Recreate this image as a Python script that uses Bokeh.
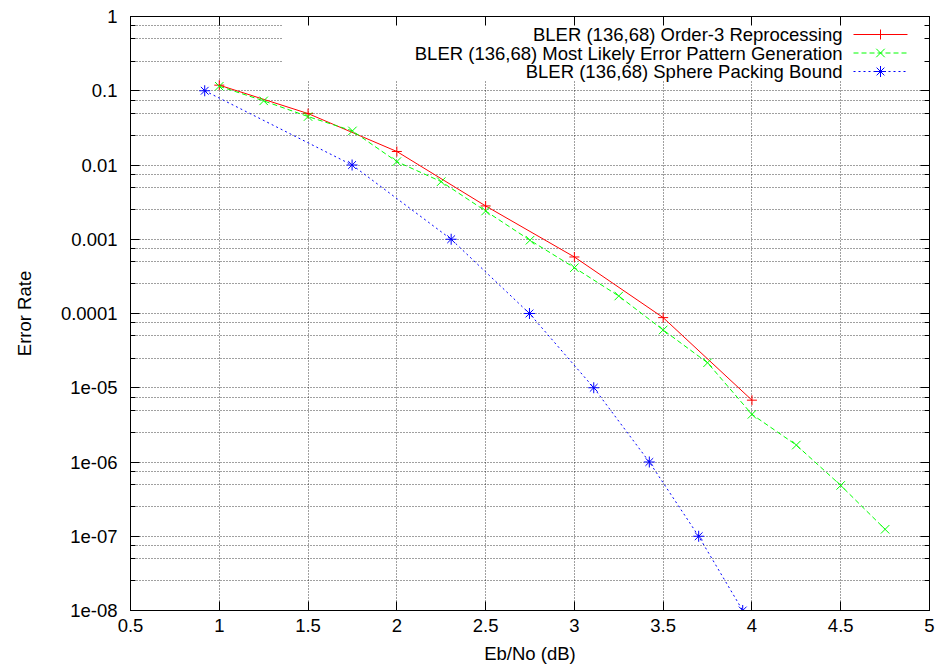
from bokeh.plotting import figure
from bokeh.models import (FixedTicker, LogAxis, LinearAxis, CustomJSTickFormatter,
                          BoxAnnotation, Label, Range1d, LinearScale)
from bokeh.embed import file_html
from bokeh.resources import INLINE

# ---------------- data ----------------
x_reproc = [1.0, 1.5, 2.0, 2.5, 3.0, 3.5, 4.0]
y_reproc = [0.119, 0.0493, 0.0152, 0.00281, 5.77e-4, 8.8e-5, 6.8e-6]

x_mlepg = [1.0, 1.25, 1.5, 1.75, 2.0, 2.25, 2.5, 2.75, 3.0, 3.25, 3.5, 3.75, 4.0, 4.25, 4.5, 4.75]
y_mlepg = [0.115, 0.0731, 0.0449, 0.0288, 0.0111, 0.00597, 0.0024, 9.7e-4, 4.14e-4, 1.72e-4,
           6.0e-5, 2.17e-5, 4.38e-6, 1.69e-6, 4.84e-7, 1.24e-7]

x_sphere = [0.918, 1.748, 2.306, 2.747, 3.109, 3.422, 3.700, 3.948]
y_sphere = [1e-1, 1e-2, 1e-3, 1e-4, 1e-5, 1e-6, 1e-7, 1e-8]

series_names = ["BLER (136,68) Order-3 Reprocessing",
                "BLER (136,68) Most Likely Error Pattern Generation",
                "BLER (136,68) Sphere Packing Bound"]

x_ticks = [0.5, 1.0, 1.5, 2.0, 2.5, 3.0, 3.5, 4.0, 4.5, 5.0]
x_tick_labels = ["0.5", "1", "1.5", "2", "2.5", "3", "3.5", "4", "4.5", "5"]
y_ticks = [1e-8, 1e-7, 1e-6, 1e-5, 1e-4, 1e-3, 1e-2, 1e-1, 1.0]
y_tick_labels = ["1e-08", "1e-07", "1e-06", "1e-05", "0.0001", "0.001", "0.01", "0.1", "1"]
y_minor_mult = [2.5, 5.0, 7.5]

x_label = "Eb/No (dB)"
y_label = "Error Rate"

# ---------------- styling / layout ----------------
FONT = "Liberation Sans"
FS = "18.5px"
RED, GREEN, BLUE = "#ff0000", "#00ff00", "#0000ff"
FRAME_L, FRAME_R, FRAME_T, FRAME_B = 130, 929, 16, 610   # canvas px of plot frame

y_minor = [m * t for t in y_ticks[:-1] for m in y_minor_mult]

p = figure(width=939, height=671, y_axis_type="log",
           x_range=(x_ticks[0], x_ticks[-1]), y_range=(y_ticks[0], y_ticks[-1]),
           output_backend="svg", toolbar_location=None,
           min_border_left=FRAME_L, min_border_right=939 - FRAME_R,
           min_border_top=FRAME_T, min_border_bottom=671 - FRAME_B)
p.background_fill_color = "white"
p.border_fill_color = "white"
p.outline_line_color = "black"
p.outline_line_width = 1

fmt_code = """
let best = 0, bd = Infinity;
for (let i = 0; i < vals.length; i++) {
  const d = Math.abs(vals[i] - tick) / Math.abs(vals[i]);
  if (d < bd) { bd = d; best = i; }
}
return labs[best];
"""
xfmt = CustomJSTickFormatter(args=dict(vals=x_ticks, labs=x_tick_labels), code=fmt_code)
yfmt = CustomJSTickFormatter(args=dict(vals=y_ticks, labs=y_tick_labels), code=fmt_code)
blank = CustomJSTickFormatter(code="return '';")

def style_axis(ax):
    ax.axis_line_color = "black"
    ax.major_tick_line_color = "black"
    ax.minor_tick_line_color = "black"
    ax.major_tick_in = 9
    ax.major_tick_out = 0
    ax.minor_tick_in = 5
    ax.minor_tick_out = 0
    ax.major_label_text_font = FONT
    ax.major_label_text_font_size = FS
    ax.major_label_text_color = "black"
    ax.axis_label_text_font = FONT
    ax.axis_label_text_font_size = FS
    ax.axis_label_text_font_style = "normal"
    ax.axis_label_text_color = "black"

xb = p.xaxis[0]
xb.ticker = FixedTicker(ticks=x_ticks, minor_ticks=[])
xb.formatter = xfmt
xb.axis_label = x_label
style_axis(xb)
xb.major_label_standoff = 8
xb.axis_label_standoff = 8

yl = p.yaxis[0]
yl.ticker = FixedTicker(ticks=y_ticks, minor_ticks=y_minor)
yl.formatter = yfmt
yl.axis_label = y_label
style_axis(yl)
yl.major_label_standoff = 13
yl.axis_label_standoff = 23

xt = LinearAxis(ticker=FixedTicker(ticks=x_ticks, minor_ticks=[]), formatter=blank)
style_axis(xt)
xt.major_label_standoff = 0
p.add_layout(xt, "above")

yr = LogAxis(ticker=FixedTicker(ticks=y_ticks, minor_ticks=y_minor), formatter=blank)
style_axis(yr)
yr.major_label_standoff = 0
p.add_layout(yr, "right")

# grid
p.xgrid.ticker = FixedTicker(ticks=x_ticks)
p.ygrid.ticker = FixedTicker(ticks=y_ticks + y_minor)
for g in (p.xgrid, p.ygrid):
    g.grid_line_color = "black"
    g.grid_line_dash = "1 2"
    g.grid_line_width = 1
    g.grid_line_alpha = 0.75

# key area blanks the grid (opaque key box)
KEY_L, KEY_B = 282, 80
box = BoxAnnotation(left=KEY_L - FRAME_L, right=FRAME_R - FRAME_L,
                    bottom=FRAME_B - KEY_B, top=FRAME_B - FRAME_T,
                    left_units="screen", right_units="screen",
                    bottom_units="screen", top_units="screen",
                    fill_color="white", fill_alpha=1.0, line_color=None, level="underlay")
p.add_layout(box)

# series
styles = [
    dict(color=RED, dash="solid", marker="cross", size=10),
    dict(color=GREEN, dash="5 3", marker="x", size=12),
    dict(color=BLUE, dash="2 3", marker="asterisk", size=11),
]
for (xs, ys), st in zip([(x_reproc, y_reproc), (x_mlepg, y_mlepg), (x_sphere, y_sphere)], styles):
    p.line(xs, ys, line_color=st["color"], line_width=1, line_dash=st["dash"])
    p.scatter(xs, ys, marker=st["marker"], size=st["size"], line_color=st["color"], line_width=1)

# key: text right-aligned, sample on the right (pixel coordinate system of the frame)
p.extra_x_ranges = {"key": Range1d(FRAME_L, FRAME_R)}
p.extra_y_ranges = {"key": Range1d(FRAME_B, FRAME_T)}
p.extra_x_scales = {"key": LinearScale()}
p.extra_y_scales = {"key": LinearScale()}
row_y = [34.0, 52.5, 71.0]
SAMPLE_L, SAMPLE_R, TEXT_R = 853, 907, 842
for name, ry, st in zip(series_names, row_y, styles):
    p.line([SAMPLE_L, SAMPLE_R], [ry, ry], line_color=st["color"], line_width=1,
           line_dash=st["dash"], x_range_name="key", y_range_name="key")
    p.scatter([(SAMPLE_L + SAMPLE_R) / 2], [ry], marker=st["marker"], size=st["size"],
              line_color=st["color"], line_width=1, x_range_name="key", y_range_name="key")
    p.add_layout(Label(x=TEXT_R - FRAME_L, y=FRAME_B - ry, x_units="screen", y_units="screen",
                       text=name, text_align="right", text_baseline="middle",
                       text_font=FONT, text_font_size=FS, text_color="black"))

open("out.html", "w").write(file_html(p, INLINE))
